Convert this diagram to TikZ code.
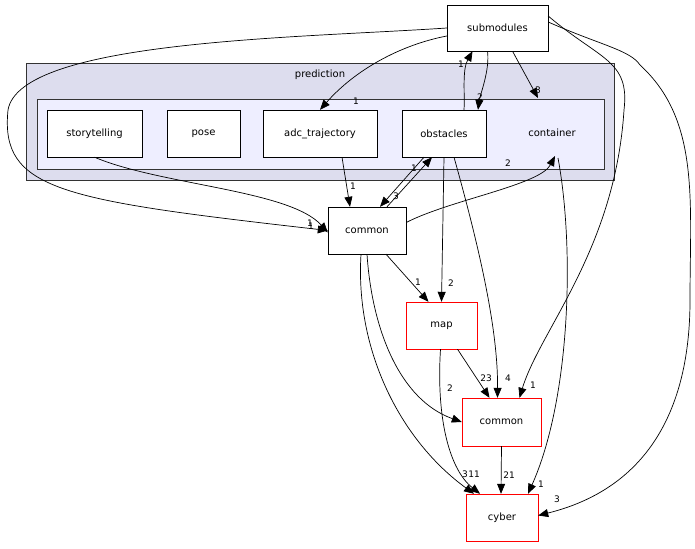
\documentclass[tikz,border=0pt]{standalone}
\usepackage{fontspec}
\setmainfont{DejaVu Sans}
\usetikzlibrary{arrows.meta}
\begin{document}
\begin{tikzpicture}[x=1pt,y=-1pt,
  box/.style={draw=black,fill=white,font=\fontsize{10}{11}\selectfont,inner sep=0pt},
  red/.style={box,draw={rgb,255:red,255;green,0;blue,0}},
  e/.style={-{Triangle[length=10pt,width=8pt]},line width=0.7pt},
  lb/.style={font=\fontsize{9}{10}\selectfont,inner sep=0pt}]
\useasboundingbox (0,0) rectangle (695,548);
\filldraw[draw={rgb,255:red,51;green,51;blue,51},fill={rgb,255:red,221;green,221;blue,238}] (26,63) rectangle (614,180);
\node[font=\fontsize{10}{11}\selectfont] (plabel) at (320,75) {prediction};
\filldraw[draw={rgb,255:red,51;green,51;blue,51},fill={rgb,255:red,238;green,238;blue,255}] (37,99) rectangle (604,169);
\node[font=\fontsize{10}{11}\selectfont] (container) at (552,133) {container};
\coordinate (contTop) at (538,98);
\coordinate (contBot) at (558,158);
\coordinate (contLeft) at (555,156);
\node[box,minimum width=95pt,minimum height=47pt] (story) at (94.5,133.5) {storytelling};
\node[box,minimum width=73pt,minimum height=47pt] (pose) at (203.5,133.5) {pose};
\node[box,minimum width=114pt,minimum height=47pt] (adc) at (320,133.5) {adc\_trajectory};
\node[box,minimum width=84pt,minimum height=47pt] (obs) at (444,133.5) {obstacles};
\node[box,minimum width=101pt,minimum height=46pt] (sub) at (497.5,28) {submodules};
\node[box,minimum width=78pt,minimum height=47pt] (com) at (367,230.5) {common};
\node[red,minimum width=71pt,minimum height=47pt] (map) at (441.5,325.5) {map};
\node[red,minimum width=79pt,minimum height=48pt] (comr) at (501.5,422) {common};
\node[red,minimum width=72pt,minimum height=47pt] (cyber) at (502,517.5) {cyber};

\draw[e] (sub.west) ++(0,8) coordinate (s1) (s1) .. controls (400,45) and (355,70) .. (adc.north);
\node[lb] at (356,101) {1};
\draw[e] (sub.west) .. controls (300,38) and (20,40) .. (8,110) .. controls (0,190) and (60,200) .. (com.west);
\draw[e] (story.south) .. controls (160,185) and (290,190) .. ([yshift=-2pt]com.west);
\node[lb] at (310,223) {1};
\node[lb] at (311,226) {1};
\draw[e] ([xshift=15pt]sub.south) -- (contTop);
\node[lb] at (538,90) {3};
\draw[e] ([xshift=-10pt]sub.south) .. controls (490,70) and (480,95) .. ([xshift=34pt]obs.north);
\node[lb] at (480,97) {2};
\draw[e] ([xshift=20pt]obs.north) .. controls (465,95) and (462,70) .. ([xshift=-25pt]sub.south);
\node[lb] at (461,64) {1};
\draw[e] ([yshift=12pt]sub.east) .. controls (600,60) and (630,60) .. (624,110) .. controls (615,250) and (540,330) .. ([xshift=18pt]comr.north);
\node[lb] at (533,385) {1};
\draw[e] ([yshift=6pt]sub.east) .. controls (600,45) and (630,50) .. (640,65) .. controls (700,120) and (690,200) .. (690,300) .. controls (690,460) and (600,500) .. ([yshift=2pt]cyber.east);
\node[lb] at (557,499) {3};
\draw[e] ([xshift=22pt]adc.south) -- ([xshift=-17pt]com.north);
\node[lb] at (353,186) {1};
\draw[e] ([xshift=-20pt]obs.south) -- ([xshift=13pt]com.north);
\node[lb] at (396,196) {3};
\draw[e] ([xshift=20pt]com.north) -- ([xshift=-12pt]obs.south);
\node[lb] at (414,168) {1};
\draw[e] ([yshift=8pt]com.east) .. controls (450,200) and (540,185) .. (contLeft);
\node[lb] at (508,163) {2};
\draw[e] ([xshift=19pt]com.south) -- ([xshift=-13pt]map.north);
\node[lb] at (418,282) {1};
\draw[e] (com.south) .. controls (372,330) and (400,400) .. (comr.west);
\node[lb] at (450,388) {2};
\draw[e] ([xshift=-6pt]com.south) .. controls (355,350) and (400,440) .. ([xshift=-28pt]cyber.north);
\node[lb] at (465,474) {3};
\draw[e] (obs.south) -- (map.north);
\node[lb] at (451,283) {2};
\draw[e] ([xshift=10pt]obs.south) .. controls (480,250) and (498,330) .. ([xshift=-4pt]comr.north);
\node[lb] at (508,378) {4};
\draw[e] (contBot) .. controls (575,250) and (570,400) .. ([xshift=26pt]cyber.north);
\node[lb] at (541,484) {1};
\draw[e] ([xshift=16pt]map.south) -- ([xshift=-12pt]comr.north);
\node[lb] at (486,378) {23};
\draw[e] ([xshift=-1pt]map.south) .. controls (436,420) and (450,470) .. ([xshift=-22pt]cyber.north);
\node[lb] at (474,474) {11};
\draw[e] (comr.south) -- ([xshift=-1pt]cyber.north);
\node[lb] at (509,475) {21};
\end{tikzpicture}
\end{document}
